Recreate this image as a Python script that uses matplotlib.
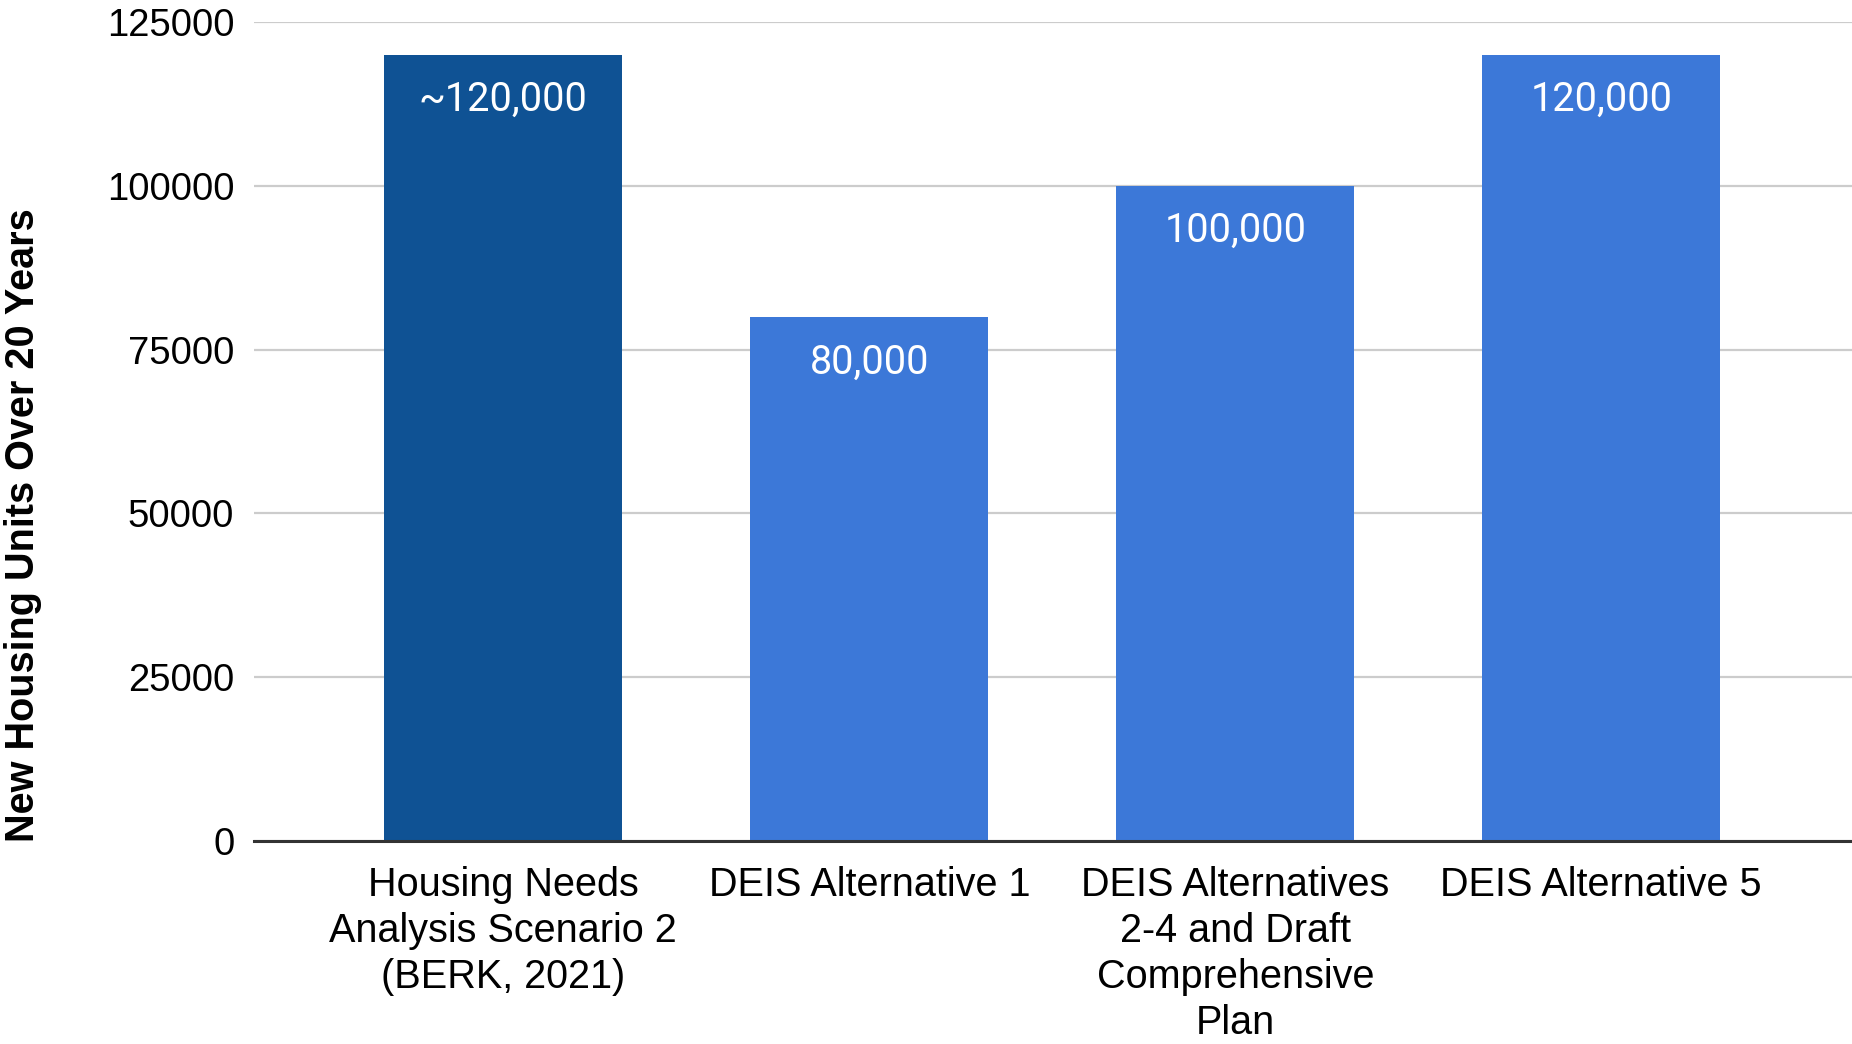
import matplotlib
matplotlib.use("Agg")
import matplotlib.pyplot as plt

categories = ["Housing Needs\nAnalysis Scenario 2\n(BERK, 2021)",
              "DEIS Alternative 1",
              "DEIS Alternatives\n2-4 and Draft\nComprehensive\nPlan",
              "DEIS Alternative 5"]
units = [120000, 80000, 100000, 120000]
value_labels = ["~120,000", "80,000", "100,000", "120,000"]
bar_colors = ["#0f5294", "#3c78d8", "#3c78d8", "#3c78d8"]
yticks = [0, 25000, 50000, 75000, 100000, 125000]

plt.rcParams['font.family'] = ['Liberation Sans', 'DejaVu Sans']

fig = plt.figure(figsize=(18.52, 10.44), dpi=100)
ax = fig.add_axes([0.137, 0.1944, 0.863, 0.7846])

x = list(range(len(categories)))
ax.bar(x, units, width=0.65, color=bar_colors, zorder=3)

for xi, v, lab in zip(x, units, value_labels):
    ax.annotate(lab, (xi, v), xytext=(0, -45), textcoords='offset pixels',
                ha='center', va='center', color='white', fontsize=28.5,
                family=['Roboto', 'DejaVu Sans'], zorder=4)

ax.set_xlim(-0.682, 3.685)
ax.set_ylim(0, 125000)
ax.set_yticks(yticks)
ax.set_yticklabels([str(t) for t in yticks])
ax.set_xticks(x)
ax.set_xticklabels(categories, linespacing=1.27)

ax.grid(axis='y', color='#cccccc', linewidth=1.6, zorder=0)
ax.set_axisbelow(True)
for s in ['top', 'right', 'left']:
    ax.spines[s].set_visible(False)
ax.spines['bottom'].set_color('#333333')
ax.spines['bottom'].set_linewidth(2.2)
ax.spines['bottom'].set_zorder(5)

ax.tick_params(axis='y', length=0, pad=14, labelsize=27.5, colors='#000000')
ax.tick_params(axis='x', length=0, pad=18, labelsize=28.5, colors='#000000')

fig.text(0.0125, 0.497, "New Housing Units Over 20 Years", rotation=90,
         ha='center', va='center', fontsize=28.5, fontweight='bold')

fig.savefig("out.png", dpi=100)
